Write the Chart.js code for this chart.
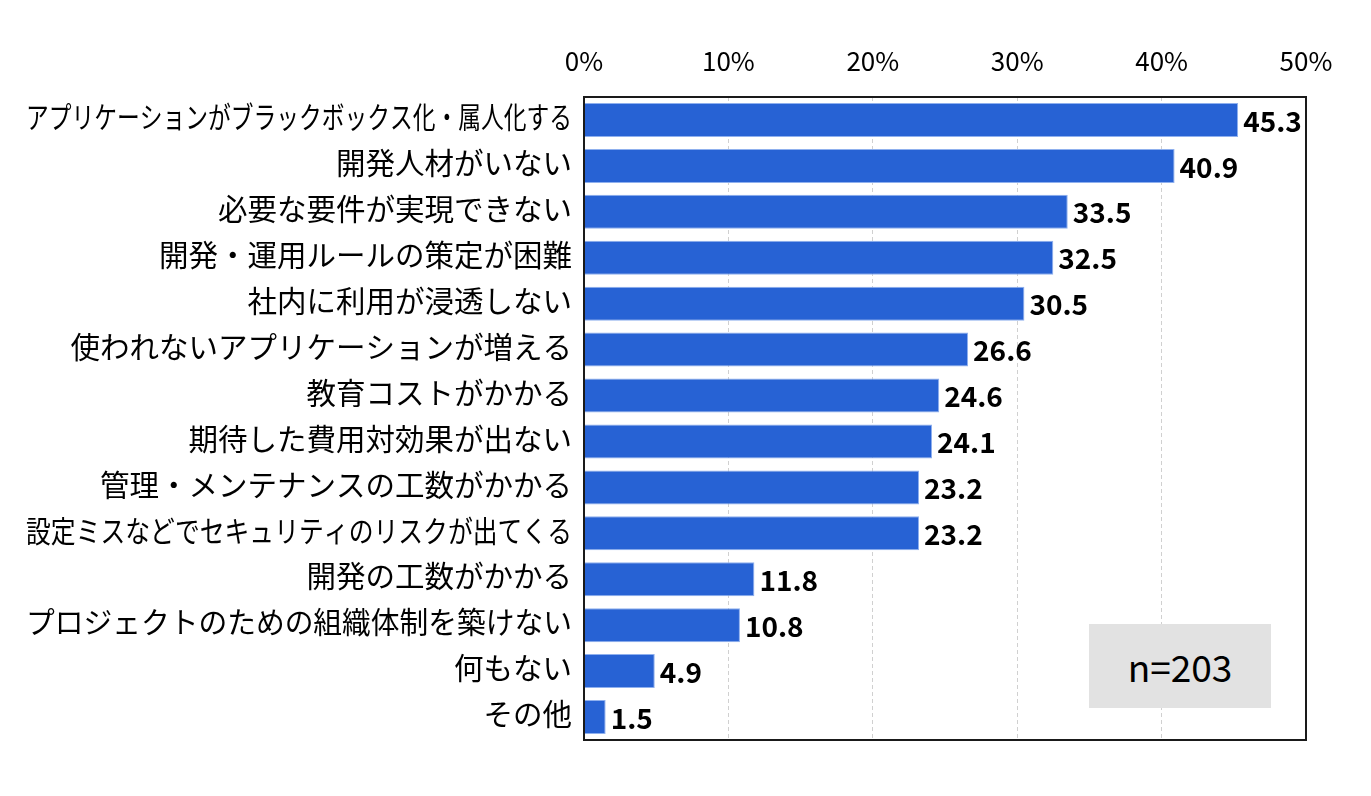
<!DOCTYPE html>
<html>
<head>
<meta charset="utf-8">
<script src="https://cdn.jsdelivr.net/npm/chart.js@4.4.1/dist/chart.umd.min.js"></script>
<style>
  html, body { margin: 0; padding: 0; background: #fff; }
  #wrap { position: relative; width: 1371px; height: 796px; }
  #nbox {
    position: absolute; left: 1089px; top: 624px; width: 182px; height: 84px;
    background: #e2e2e2; color: #000;
    font-family: "Noto Sans CJK JP", "Noto Sans", sans-serif; font-size: 37px;
    display: flex; align-items: center; justify-content: center;
  }
</style>
</head>
<body>
<div id="wrap">
  <canvas id="mainChart" width="1371" height="796"></canvas>
  <div id="nbox">n=203</div>
</div>
<script>
const categories = [
    "アプリケーションがブラックボックス化・属人化する",
    "開発人材がいない",
    "必要な要件が実現できない",
    "開発・運用ルールの策定が困難",
    "社内に利用が浸透しない",
    "使われないアプリケーションが増える",
    "教育コストがかかる",
    "期待した費用対効果が出ない",
    "管理・メンテナンスの工数がかかる",
    "設定ミスなどでセキュリティのリスクが出てくる",
    "開発の工数がかかる",
    "プロジェクトのための組織体制を築けない",
    "何もない",
    "その他"
];
const values = [45.3, 40.9, 33.5, 32.5, 30.5, 26.6, 24.6, 24.1, 23.2, 23.2, 11.8, 10.8, 4.9, 1.5];
const xTicks = [0, 10, 20, 30, 40, 50];

const FONT = '"Noto Sans CJK JP", "Noto Sans", sans-serif';


// ---------------- Plugins ----------------
// category labels, squeezed horizontally when too long (like the original's proportional kana)
const categoryLabels = {
    id: 'categoryLabels',
    afterDraw(chart) {
        const ctx = chart.ctx;
        const y = chart.scales.y;
        const right = chart.chartArea.left - 12;
        ctx.save();
        ctx.font = '29.5px ' + FONT;
        ctx.fillStyle = '#000';
        ctx.textAlign = 'right';
        ctx.textBaseline = 'middle';
        categories.forEach((c, i) => {
            ctx.fillText(c, right, y.getPixelForValue(i) - 3, right - 26);
        });
        ctx.restore();
    }
};

const valueLabels = {
    id: 'valueLabels',
    afterDatasetsDraw(chart) {
        const ctx = chart.ctx;
        const meta = chart.getDatasetMeta(0);
        ctx.save();
        ctx.font = 'bold 28px ' + FONT;
        ctx.fillStyle = '#000';
        ctx.textAlign = 'left';
        ctx.textBaseline = 'middle';
        meta.data.forEach((bar, i) => {
            ctx.fillText(values[i].toFixed(1), bar.x + 5, bar.y + 1);
        });
        ctx.restore();
    }
};

const frame = {
    id: 'frame',
    afterDatasetsDraw(chart) {
        const a = chart.chartArea;
        const ctx = chart.ctx;
        ctx.save();
        ctx.strokeStyle = '#1a1a1a';
        ctx.lineWidth = 2;
        ctx.strokeRect(a.left, a.top, a.right - a.left, a.bottom - a.top);
        ctx.restore();
    }
};


// ---------------- Chart Init ----------------
const ctx = document.getElementById('mainChart').getContext('2d');

new Chart(ctx, {
    type: 'bar',
    data: {
        labels: categories,
        datasets: [{
            data: values,
            backgroundColor: '#2762d4',
            borderColor: '#8fb0ee',
            borderWidth: 1,
            categoryPercentage: 0.74,
            barPercentage: 1.0
        }]
    },
    options: {
        indexAxis: 'y',
        responsive: false,
        animation: false,
        layout: { padding: { top: 0, left: 0, right: 65, bottom: 56 } },
        plugins: { legend: { display: false }, tooltip: { enabled: false } },
        scales: {
            x: {
                position: 'top',
                min: 0,
                max: 50,
                afterBuildTicks: s => { s.ticks = xTicks.map(v => ({ value: v })); },
                afterFit: s => { s.height = 97; },
                border: { display: false, dash: [4, 3] },
                grid: {
                    color: '#d0d0d0',
                    lineWidth: 1,
                    drawTicks: false
                },
                ticks: {
                    color: '#000',
                    padding: 20,
                    font: { family: FONT, size: 26 },
                    callback: v => v + '%'
                }
            },
            y: {
                afterFit: s => { s.width = 584; },
                border: { display: false },
                grid: { display: false },
                ticks: { display: false }
            }
        }
    },
    plugins: [valueLabels, frame, categoryLabels]
});
</script>
</body>
</html>
